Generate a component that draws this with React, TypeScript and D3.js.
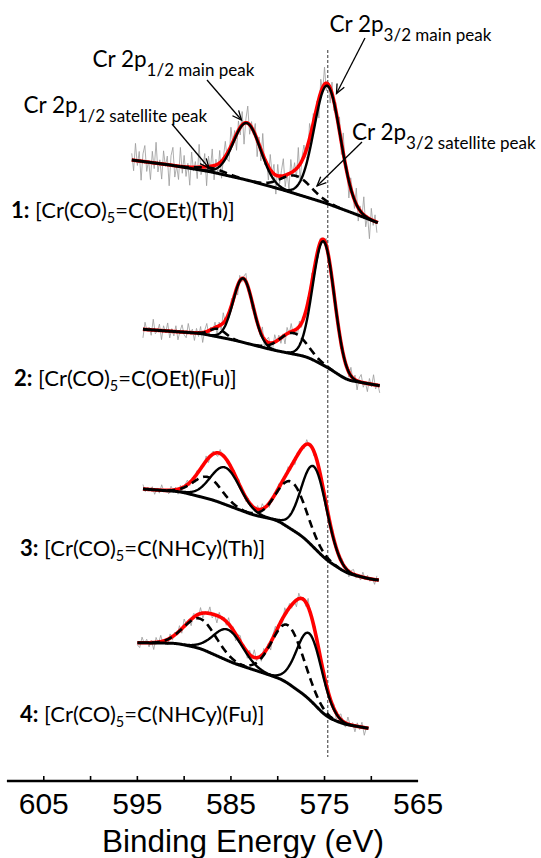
import React from "react";
import * as d3 from "d3";

// ---------- DATA ----------
const panelIds = ["1:", "2:", "3:", "4:"];
const compoundHead = "[Cr(CO)";
const compoundSub = "5";
const compoundTail = ["=C(OEt)(Th)]", "=C(OEt)(Fu)]", "=C(NHCy)(Th)]", "=C(NHCy)(Fu)]"];

// binding-energy range of each spectrum (eV)
const energyFrom = [595.6, 594.4, 594.4, 595.0];
const energyTo = [569.3, 569.1, 569.2, 570.3];

// background knots [eV, counts]
const background1 = [[595.6, 62.7], [591.5, 57.7], [587.2, 51], [583.3, 42.7], [579.4, 32.7], [574.8, 19.4], [572.0, 9.7], [569.3, 0]];
const background2 = [[594.4, 56.4], [588.3, 52.4], [584.7, 45.7], [580.5, 35.7], [576.9, 29], [574.8, 19], [572.6, 5.7], [569.1, 0]];
const background3 = [[594.4, 91], [590.4, 88.3], [586.9, 80], [582.6, 65], [580.1, 60], [577.3, 43.3], [574.8, 20], [572.6, 6.7], [570.0, 0.7], [569.2, 0]];
const background4 = [[595.0, 85.6], [590.8, 85], [588.3, 80], [584.7, 65], [581.2, 54.3], [579.4, 48.3], [576.9, 31.6], [574.8, 11.6], [573.0, 4.3], [570.3, 0]];

// fitted components: [2p1/2, 2p3/2]
const mainCenter = [[583.3, 574.7], [583.7, 575.1], [585.6, 576.1], [585.3, 576.6]];
const mainHeight = [[57, 118], [64, 124], [37, 81], [31, 66]];
const mainFwhm = [[3.4, 3.3], [2.5, 2.7], [3.7, 3.2], [3.7, 3.2]];
const satCenter = [[587.0, 578.0], [586.4, 578.3], [587.5, 578.5], [588.3, 578.9]];
const satHeight = [[4, 18], [8, 21], [21.6, 47.5], [30, 58]];
const satFwhm = [[3.5, 3.8], [2.0, 3.4], [3.5, 3.7], [4.0, 4.0]];

// raw-data scatter around the envelope
const noiseAmp = [19, 9, 5, 7];
const rawStep = [0.2, 0.22, 0.25, 0.25];
const rawNoise = [
  0.35, -0.55, 0.9, -0.25, 0.5, -1.0, 0.4, 0.85, -0.5, 0.1,
  -0.9, 0.6, -0.3, 1.1, -0.45, 0.2, -0.8, 0.7, -0.1, 0.45,
  -1.1, 0.5, 0.95, -0.6, 0.0, -0.7, 1.0, -0.35, 0.6, -0.5,
  0.2, -0.95, 0.8, -0.2, 0.3, -0.6, 1.2, -0.4, -0.1, 0.7,
  -1.0, 0.55, -0.2, 0.9, -0.75, 0.3, -0.5, 0.65, -0.9, 0.1,
  0.8, -0.3, -0.6, 1.0, -0.1, 0.4, -0.85, 0.5, -0.4, 0.7,
  -1.1, 0.2, 0.9, -0.5, 0.3, -0.2, 0.6, -0.9, 0.4, -0.6,
  1.1, -0.3, 0.2, -0.7, 0.8, -0.1, 0.5, -1.0, 0.6, -0.4,
  0.3, 0.9, -0.6, 0.1, -0.8, 0.7, -0.2, 0.4, -0.5, 1.0,
  -0.9, 0.2, 0.6, -0.3, -0.7, 0.8, -0.1, 0.5, -0.6, 0.3,
  -1.0, 0.7, -0.2, 0.9, -0.4, 0.1, -0.8, 0.6, -0.5, 0.4,
  -0.3, 0.75, -0.65, 1.05, -0.15, 0.35, -0.9, 0.55, 0.15, -0.45,
  0.85, -0.7, 0.25, -0.2, 0.95, -0.55, 0.1, -1.05, 0.6, -0.25,
];

const tickValues = [605, 600, 595, 590, 585, 580, 575, 570];
const tickLabels = [605, 595, 585, 575, 565];
const referenceEnergy = 574.65;
const axisTitle = "Binding Energy (eV)";

const annotations = [
  { main: "Cr 2p", sub: "3/2 main peak" },
  { main: "Cr 2p", sub: "1/2 main peak" },
  { main: "Cr 2p", sub: "1/2 satellite peak" },
  { main: "Cr 2p", sub: "3/2 satellite peak" },
];

// ---------- LAYOUT ----------
const W = 541;
const H = 858;
const panelBase = [222.7, 385.7, 580, 728.3];
const labelPos = [[11, 218], [14, 386], [20, 556], [20, 722]];
const annPos = [[329.5, 31.7], [92.5, 66.7], [23.5, 113.3], [352, 140]];
const arrows = [
  [[365, 38], [336.5, 93.5]],
  [[207, 80], [241.5, 120]],
  [[172, 124], [209, 168]],
  [[362, 142], [317, 186]],
];
const FONT = "Lato, 'Open Sans', sans-serif";
const AXFONT = "'Liberation Sans', Arial, sans-serif";

const gauss = (e: number, c: number, h: number, f: number) =>
  h * Math.exp((-4 * Math.LN2 * (e - c) * (e - c)) / (f * f));

function Arrow({ from, to }: { from: number[]; to: number[] }) {
  const a = Math.atan2(to[1] - from[1], to[0] - from[0]);
  const L = 10;
  const s = 0.42;
  const p1 = [to[0] - L * Math.cos(a - s), to[1] - L * Math.sin(a - s)];
  const p2 = [to[0] - L * Math.cos(a + s), to[1] - L * Math.sin(a + s)];
  return (
    <g stroke="#000" strokeWidth={1.3} fill="none">
      <line x1={from[0]} y1={from[1]} x2={to[0]} y2={to[1]} />
      <polyline points={`${p1[0]},${p1[1]} ${to[0]},${to[1]} ${p2[0]},${p2[1]}`} />
    </g>
  );
}

export default function App() {
  const x = d3.scaleLinear().domain([608.94, 565]).range([6.9, 418.1]);
  const backgrounds = [background1, background2, background3, background4];
  const STEP = 0.05;

  const panels = panelIds.map((id, p) => {
    const y = d3.scaleLinear().domain([0, 100]).range([panelBase[p], panelBase[p] - 100]);
    const knots = backgrounds[p];
    const bgLin = d3
      .scaleLinear()
      .domain(knots.map((k) => k[0]))
      .range(knots.map((k) => k[1]))
      .clamp(true);
    const grid = d3.range(energyFrom[p], energyTo[p] - 1e-9, -STEP);
    const rawBg = grid.map((e) => bgLin(e));
    const half = 14;
    const bg = rawBg.map((_, i) => {
      const lo = Math.max(0, i - half);
      const hi = Math.min(rawBg.length, i + half + 1);
      const w = Math.min(i - lo, hi - 1 - i);
      return d3.mean(rawBg.slice(i - w, i + w + 1)) as number;
    });
    const comps = [0, 1].flatMap((k) => [
      { c: mainCenter[p][k], h: mainHeight[p][k], f: mainFwhm[p][k], dashed: false },
      { c: satCenter[p][k], h: satHeight[p][k], f: satFwhm[p][k], dashed: true },
    ]);
    const env = grid.map((e, i) => bg[i] + d3.sum(comps, (c) => gauss(e, c.c, c.h, c.f)));
    const line = d3
      .line<[number, number]>()
      .x((d) => x(d[0]))
      .y((d) => y(d[1]));
    const bgPath = line(grid.map((e, i) => [e, bg[i]]));
    const envPath = line(grid.map((e, i) => [e, env[i]]));
    const compPaths = comps.map((c) => {
      const pts: [number, number][] = [];
      grid.forEach((e, i) => {
        const g = gauss(e, c.c, c.h, c.f);
        if (g > 0.3) pts.push([e, bg[i] + g]);
      });
      return { d: line(pts), dashed: c.dashed };
    });
    const rawE = d3.range(energyFrom[p], energyTo[p] - 1e-9, -rawStep[p]);
    const rawPts: [number, number][] = rawE.map((e, j) => {
      const i = Math.min(grid.length - 1, Math.round((energyFrom[p] - e) / STEP));
      return [e, env[i] + noiseAmp[p] * rawNoise[(j + p * 31) % rawNoise.length]];
    });
    const rawPath = line(rawPts);
    return { id, p, bgPath, envPath, compPaths, rawPath };
  });

  const axisY = 781;

  return (
    <svg
      width={W}
      height={H}
      viewBox={`0 0 ${W} ${H}`}
      style={{ position: "absolute", left: 0, top: 0, display: "block", background: "#fff" }}
    >
      <rect width={W} height={H} fill="#fff" />
      {/* reference line */}
      <line
        x1={x(referenceEnergy)}
        x2={x(referenceEnergy)}
        y1={50}
        y2={757}
        stroke="#333"
        strokeWidth={1}
        strokeDasharray="3,2"
      />
      {panels.map((pn) => (
        <g key={pn.id}>
          <path d={pn.rawPath!} fill="none" stroke="#9a9a9a" strokeWidth={0.8} />
          <path d={pn.envPath!} fill="none" stroke="#ff0000" strokeWidth={3.6} strokeLinejoin="round" />
          <path d={pn.bgPath!} fill="none" stroke="#000" strokeWidth={3} />
          {pn.compPaths.map((c, k) => (
            <path
              key={k}
              d={c.d!}
              fill="none"
              stroke="#000"
              strokeWidth={c.dashed ? 2.6 : 2.4}
              strokeDasharray={c.dashed ? "8,5" : undefined}
            />
          ))}
          <text x={labelPos[pn.p][0]} y={labelPos[pn.p][1]} fontFamily={FONT} fontSize={22} fill="#000">
            <tspan fontWeight="bold">{pn.id}</tspan>
            <tspan> {compoundHead}</tspan>
            <tspan fontSize={14.5} dy={5}>{compoundSub}</tspan>
            <tspan dy={-5}>{compoundTail[pn.p]}</tspan>
          </text>
        </g>
      ))}
      {/* annotations */}
      {annotations.map((a, i) => (
        <g key={i}>
          <text x={annPos[i][0]} y={annPos[i][1]} fontFamily={FONT} fontSize={22.5} fill="#000">
            {a.main}
            <tspan fontSize={17} dy={9}>{a.sub}</tspan>
          </text>
          <Arrow from={arrows[i][0]} to={arrows[i][1]} />
        </g>
      ))}
      {/* axis */}
      <line x1={x.range()[0]} x2={x.range()[1]} y1={axisY} y2={axisY} stroke="#000" strokeWidth={2.6} />
      {tickValues.map((t) => (
        <line key={t} x1={x(t)} x2={x(t)} y1={axisY} y2={axisY - 5} stroke="#000" strokeWidth={1.6} />
      ))}
      {tickLabels.map((t) => (
        <text key={t} x={x(t)} y={814} textAnchor="middle" fontFamily={AXFONT} fontSize={30} fill="#000">
          {t}
        </text>
      ))}
      <text x={243} y={852} textAnchor="middle" fontFamily={AXFONT} fontSize={31.5} fill="#000">
        {axisTitle}
      </text>
    </svg>
  );
}
